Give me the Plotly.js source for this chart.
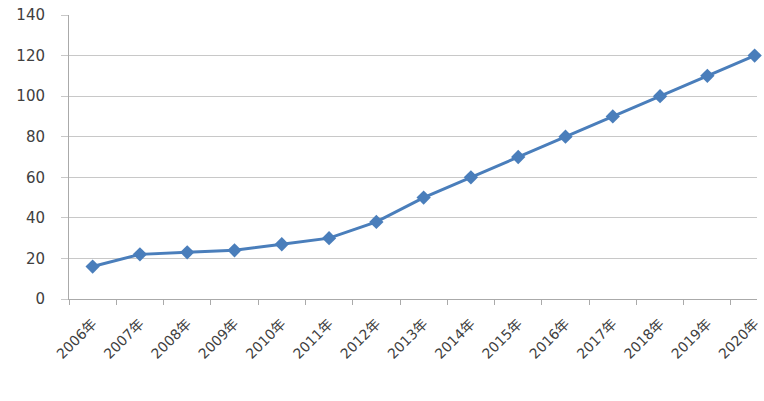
<!DOCTYPE html>
<html><head><meta charset="utf-8">
<script src="https://cdn.plot.ly/plotly-3.0.1.min.js"></script>
<style>html,body{margin:0;padding:0;background:#fff;}#chart{width:764px;height:401px;}</style>
</head><body><div id="chart"></div>
<script>
const years = ["2006年","2007年","2008年","2009年","2010年","2011年","2012年","2013年","2014年","2015年","2016年","2017年","2018年","2019年","2020年"];
const values = [16, 22, 23, 24, 27, 30, 38, 50, 60, 70, 80, 90, 100, 110, 120];
const yTicks = [0, 20, 40, 60, 80, 100, 120, 140];

Plotly.newPlot('chart', [{
  x: years, y: values, type: 'scatter', mode: 'lines+markers',
  line: {color: '#4a7ebb', width: 3},
  marker: {symbol: 'diamond', size: 11, color: '#4a7ebb'},
  cliponaxis: false
}], {
  width: 764, height: 401,
  margin: {l: 69, r: 7, t: 15, b: 102},
  paper_bgcolor: '#fff', plot_bgcolor: '#fff',
  showlegend: false,
  xaxis: {
    type: 'category', range: [-0.5, 14.05],
    tickangle: -45, tickson: 'boundaries', ticks: 'outside', ticklen: 5, tickcolor: '#aaa',
    ticklabelstandoff: 10,
    showline: true, linecolor: '#aaa', linewidth: 1, showgrid: false,
    tickfont: {family: 'DejaVu Sans, Noto Sans CJK SC', size: 14, color: '#404040'}
  },
  yaxis: {
    range: [0, 140], tickvals: yTicks, ticktext: yTicks.map(String),
    showline: true, linecolor: '#aaa', linewidth: 1,
    showgrid: true, gridcolor: '#c8c8c8', gridwidth: 1,
    ticks: 'outside', ticklen: 7, tickcolor: '#c8c8c8',
    ticklabelstandoff: 13, zeroline: false,
    tickfont: {family: 'DejaVu Sans', size: 15, color: '#404040'}
  }
}, {displayModeBar: false, staticPlot: true});
</script></body></html>
